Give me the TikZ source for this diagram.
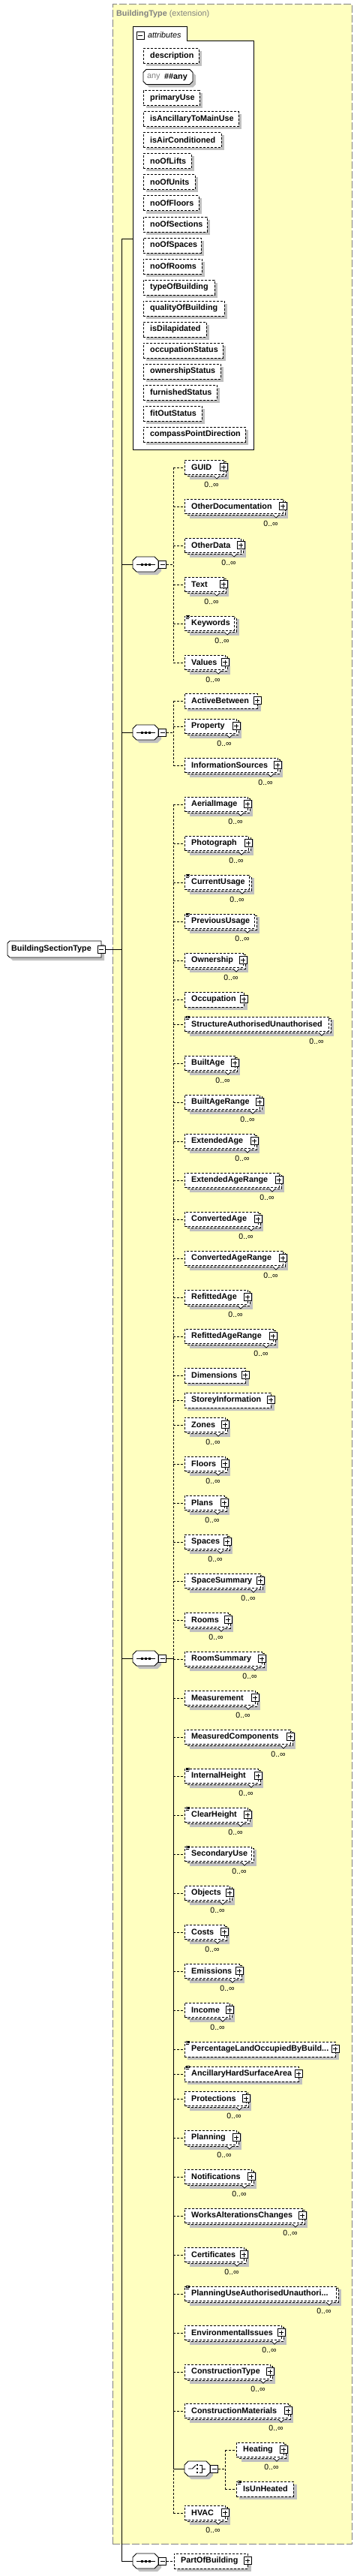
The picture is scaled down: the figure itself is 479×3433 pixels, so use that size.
\documentclass[tikz,border=0pt]{standalone}
\usepackage{fontspec}
\setmainfont{Liberation Sans}
\definecolor{yel}{RGB}{255,255,192}
\definecolor{shd}{RGB}{192,192,192}
\definecolor{brd}{RGB}{128,128,128}
\tikzset{
 elbox/.style={draw,dash pattern=on 3pt off 2pt,line width=0.8pt,fill=white,inner sep=0pt,rectangle},
 eldash/.style={dash pattern=on 3pt off 2pt,line width=0.8pt},
 eltext/.style={font=\fontsize{10.8}{12}\selectfont\bfseries,inner sep=0pt,anchor=west},
 multxt/.style={font=\fontsize{10.5}{12}\selectfont,inner sep=0pt},
 conn/.style={line width=0.8pt},
 dconn/.style={line width=0.8pt,dash pattern=on 3pt off 2pt},
 pmbox/.style={draw,fill=white,line width=0.7pt,minimum size=10pt,inner sep=0pt,rectangle},
}
\newcommand\Oct[6]{\path[#6] (#1+#5,#2) -- (#3-#5,#2) -- (#3,#2+#5) -- (#3,#4-#5) -- (#3-#5,#4) -- (#1+#5,#4) -- (#1,#4-#5) -- (#1,#2+#5) -- cycle;}
\newcommand\PlusBox[2]{\draw[line width=0.7pt,fill=white] (#1-5,#2-5.5) rectangle (#1+5,#2+4.5);
 \draw[line width=0.7pt] (#1-3,#2-0.5) -- (#1+3,#2-0.5) (#1,#2-3.5) -- (#1,#2+2.5);}
\newcommand\MinusNode[3]{\node[pmbox] (#1) at (#2,#3) {};
 \draw[line width=0.7pt] (#2-3,#3) -- (#2+3,#3);}
\newcommand\SimpIcon[2]{\draw[line width=0.6pt] (#1+1.5,#2-0.5) -- (#1+7,#2-0.5) (#1+1.5,#2+1.5) -- (#1+7,#2+1.5) (#1+1.5,#2+3.5) -- (#1+6,#2+3.5);}
% multi-occurrence element: id, text, L, yc, F, plus, icon, bus
\newcommand\MulEl[8]{%
 \fill[shd] (#3+7,#4-6) rectangle (#5+7,#4+16);
 \draw[eldash,fill=white] (#3+3,#4-8) rectangle (#5+3,#4+11);
 \node[elbox,minimum width={(#5-#3)*1pt},minimum height=19pt,anchor=north west] (#1) at (#3,#4-10) {};
 \draw[line width=0.7pt,fill=white] (#5-13,#4+11) -- (#5-9,#4+15) -- (#5-5,#4+11);
 \node[eltext] at (#3+9,#4) {#2};
 \node[multxt] at (#5-16,#4+23) {0..∞};
 \ifnum#6=1\relax\PlusBox{#5}{#4}\fi
 \ifnum#7=1\relax\SimpIcon{#3}{#4-10}\fi
 \draw[dconn] (#8 |- #1.west) -- (#1.west);
}
% single element: id, text, L, yc, F, plus, icon, bus
\newcommand\SinEl[8]{%
 \fill[shd] (#3+4,#4-6) rectangle (#5+5,#4+14);
 \node[elbox,minimum width={(#5-#3)*1pt},minimum height=20pt,anchor=north west] (#1) at (#3,#4-10) {};
 \node[eltext] at (#3+9,#4) {#2};
 \ifnum#6=1\relax\PlusBox{#5}{#4}\fi
 \ifnum#7=1\relax\SimpIcon{#3}{#4-10}\fi
 \draw[dconn] (#8 |- #1.west) -- (#1.west);
}
% attribute: id, text, yc, R
\newcommand\Attr[4]{%
 \fill[shd] (195,#3-6) rectangle (#4+4,#3+14);
 \node[elbox,minimum width={(#4-191)*1pt},minimum height=20pt,anchor=north west] (#1) at (191,#3-10) {};
 \node[eltext] at (200,#3) {#2};
}
% sequence symbol: id, x1, yc
\newcommand\SeqSym[3]{%
 \Oct{#2+4}{#3-6}{#2+38}{#3+14}{5}{fill=shd}
 \Oct{#2}{#3-10}{#2+34}{#3+10}{5}{fill=white,draw=black,line width=0.9pt}
 \node[inner sep=0pt,minimum width=34pt,minimum height=20pt,anchor=west] (#1) at (#2,#3) {};
 \draw[line width=0.9pt] (#2+5,#3) -- (#2+30,#3);
 \fill (#2+10.5,#3-1.5) rectangle +(3,3);
 \fill (#2+15.5,#3-1.5) rectangle +(3,3);
 \fill (#2+20.5,#3-1.5) rectangle +(3,3);
 \MinusNode{#1m}{#2+39.5}{#3}
}
\begin{document}
\begin{tikzpicture}[x=1pt,y=-1pt]
\useasboundingbox (0,0) rectangle (479,3433);
% extension box
\node[draw=brd,fill=yel,dash pattern=on 10pt off 3pt,line width=1pt,inner sep=0pt,minimum width=319pt,minimum height=3384.5pt,anchor=north west] (ext) at (149.5,5.5) {};
\node[anchor=west,inner sep=0pt,text=brd,font=\fontsize{10.8}{12}\selectfont] (exttitle) at (155,18.3) {\textbf{BuildingType} (extension)};
% attributes
\path[fill=white,draw=black,line width=1pt] (177,599) -- (177,36) -- (249,36) -- (249,55) -- (338,55) -- (338,599) -- cycle;
\node[inner sep=0pt,minimum width=161pt,minimum height=544pt,anchor=north west] (attrs) at (177,55) {};
\MinusNode{attrm}{187}{47}
\node[anchor=west,inner sep=0pt,font=\fontsize{10.8}{12}\selectfont\itshape] (attrtitle) at (197,47) {attributes};
\Attr{adesc}{description}{74.5}{265}
\Oct{195}{96.5}{261}{116.5}{4}{fill=shd}
\Oct{191}{92.5}{257}{112.5}{4}{fill=white,draw=black,line width=0.8pt}
\node[inner sep=0pt,minimum width=66pt,minimum height=20pt,anchor=west] (aany) at (191,102.5) {};
\node[anchor=west,inner sep=0pt,text=brd,font=\fontsize{10.8}{12}\selectfont] at (196,102.5) {any};
\node[eltext] at (219,102.5) {\#\#any};
\Attr{aprim}{primaryUse}{130.5}{266}
\Attr{aanc}{isAncillaryToMainUse}{158.5}{318}
\Attr{aair}{isAirConditioned}{186.5}{295}
\Attr{alifts}{noOfLifts}{214.5}{255}
\Attr{aunits}{noOfUnits}{242.5}{260}
\Attr{afloors}{noOfFloors}{270.5}{265}
\Attr{asect}{noOfSections}{298.5}{276}
\Attr{aspaces}{noOfSpaces}{326.5}{268}
\Attr{arooms}{noOfRooms}{354.5}{269}
\Attr{atype}{typeOfBuilding}{382.5}{286}
\Attr{aqual}{qualityOfBuilding}{410.5}{299}
\Attr{adil}{isDilapidated}{438.5}{275}
\Attr{aocc}{occupationStatus}{466.5}{297}
\Attr{aown}{ownershipStatus}{494.5}{294}
\Attr{afurn}{furnishedStatus}{522.5}{289}
\Attr{afit}{fitOutStatus}{550.5}{269}
\Attr{acomp}{compassPointDirection}{578.5}{327}
% root
\path[fill=shd] (17,1258) -- (139,1258) -- (139,1280) -- (17,1280) -- (14,1277) -- (14,1261) -- cycle;
\path[fill=white,draw=black,line width=0.9pt] (13,1254) -- (135,1254) -- (135,1276) -- (13,1276) -- (10,1273) -- (10,1257) -- cycle;
\node[inner sep=0pt,minimum width=125pt,minimum height=22pt,anchor=north west] (root) at (10,1254) {};
\node[eltext] at (15,1265) {BuildingSectionType};
\MinusNode{rootm}{135}{1265}
% buses
\coordinate (mainbus) at (162,0);
\coordinate (atop) at (177,318);
\coordinate (b1) at (231,0);
\coordinate (b4) at (300,0);
\coordinate (b5) at (221.5,0);
% sequences
\SeqSym{seqa}{177}{752}
\SeqSym{seqb}{177}{976}
\SeqSym{seqc}{177}{2210}
\SeqSym{seqd}{177}{3413}
% main connectors
\draw[conn] (atop) -- (mainbus |- atop) -- (mainbus |- seqd.west) -- (seqd.west);
\draw[conn] (rootm.east) -- (mainbus |- rootm.east);
\draw[conn] (mainbus |- seqa.west) -- (seqa.west);
\draw[conn] (mainbus |- seqb.west) -- (seqb.west);
\draw[conn] (mainbus |- seqc.west) -- (seqc.west);
% sequence 1
\draw[dconn] (seqam.east) -- (b1 |- seqam.east);
\draw[dconn] (b1 |- 0,623) -- (b1 |- 0,883);
\MulEl{guid}{GUID}{246}{623}{298}{1}{0}{b1}
\MulEl{otherdoc}{OtherDocumentation}{246}{675}{377}{1}{0}{b1}
\MulEl{otherdata}{OtherData}{246}{727}{321}{1}{0}{b1}
\MulEl{text}{Text}{246}{779}{298}{1}{0}{b1}
\MulEl{keywords}{Keywords}{246}{831}{312}{0}{1}{b1}
\MulEl{values}{Values}{246}{883}{300}{1}{0}{b1}
% sequence 2
\draw[dconn] (seqbm.east) -- (b1 |- seqbm.east);
\draw[dconn] (b1 |- 0,934) -- (b1 |- 0,1020);
\SinEl{activebetween}{ActiveBetween}{246}{934}{343}{1}{0}{b1}
\MulEl{property}{Property}{246}{968}{315}{1}{0}{b1}
\MulEl{infosources}{InformationSources}{246}{1020}{370}{1}{0}{b1}
% sequence 3
\draw[dconn] (b1 |- 0,1072) -- (b1 |- 0,3349);
\MulEl{aerial}{AerialImage}{246}{1072}{330}{1}{0}{b1}
\MulEl{photo}{Photograph}{246}{1124}{331}{1}{0}{b1}
\MulEl{curuse}{CurrentUsage}{246}{1176}{332}{0}{1}{b1}
\MulEl{prevuse}{PreviousUsage}{246}{1228}{339}{0}{1}{b1}
\MulEl{ownership}{Ownership}{246}{1280}{324}{1}{0}{b1}
\SinEl{occupation}{Occupation}{246}{1332}{325}{1}{0}{b1}
\MulEl{structau}{StructureAuthorisedUnauthorised}{246}{1365}{438}{0}{1}{b1}
\MulEl{builtage}{BuiltAge}{246}{1417}{313}{1}{0}{b1}
\MulEl{builtager}{BuiltAgeRange}{246}{1469}{346}{1}{0}{b1}
\MulEl{extage}{ExtendedAge}{246}{1521}{339}{1}{0}{b1}
\MulEl{extager}{ExtendedAgeRange}{246}{1573}{372}{1}{0}{b1}
\MulEl{convage}{ConvertedAge}{246}{1625}{344}{1}{0}{b1}
\MulEl{convager}{ConvertedAgeRange}{246}{1677}{377}{1}{0}{b1}
\MulEl{refage}{RefittedAge}{246}{1729}{330}{1}{0}{b1}
\MulEl{refager}{RefittedAgeRange}{246}{1781}{364}{1}{0}{b1}
\SinEl{dims}{Dimensions}{246}{1833}{327}{1}{0}{b1}
\SinEl{storey}{StoreyInformation}{246}{1866}{361}{1}{0}{b1}
\MulEl{zones}{Zones}{246}{1899}{300}{1}{0}{b1}
\MulEl{floors}{Floors}{246}{1951}{300}{1}{0}{b1}
\MulEl{plans}{Plans}{246}{2003}{299}{1}{0}{b1}
\MulEl{spaces}{Spaces}{246}{2055}{303}{1}{0}{b1}
\MulEl{spacesum}{SpaceSummary}{246}{2107}{347}{1}{0}{b1}
\MulEl{rooms}{Rooms}{246}{2159}{304}{1}{0}{b1}
\MulEl{roomsum}{RoomSummary}{246}{2211}{349}{1}{0}{b1}
\MulEl{measure}{Measurement}{246}{2263}{340}{1}{0}{b1}
\MulEl{meascomp}{MeasuredComponents}{246}{2315}{387}{1}{0}{b1}
\MulEl{intheight}{InternalHeight}{246}{2367}{344}{1}{1}{b1}
\MulEl{clrheight}{ClearHeight}{246}{2419}{330}{1}{1}{b1}
\MulEl{secuse}{SecondaryUse}{246}{2471}{335}{0}{1}{b1}
\MulEl{objects}{Objects}{246}{2523}{306}{1}{0}{b1}
\MulEl{costs}{Costs}{246}{2575}{299}{1}{0}{b1}
\MulEl{emissions}{Emissions}{246}{2627}{319}{1}{0}{b1}
\MulEl{income}{Income}{246}{2679}{306}{1}{0}{b1}
\SinEl{pctland}{PercentageLandOccupiedByBuild...}{246}{2731}{447}{1}{1}{b1}
\SinEl{ancillary}{AncillaryHardSurfaceArea}{246}{2764}{398}{1}{1}{b1}
\MulEl{protect}{Protections}{246}{2797}{328}{1}{0}{b1}
\MulEl{planning}{Planning}{246}{2849}{315}{1}{0}{b1}
\MulEl{notif}{Notifications}{246}{2901}{335}{1}{0}{b1}
\MulEl{works}{WorksAlterationsChanges}{246}{2953}{403}{1}{0}{b1}
\MulEl{certs}{Certificates}{246}{3005}{325}{1}{0}{b1}
\MulEl{planuse}{PlanningUseAuthorisedUnauthori...}{246}{3057}{448}{0}{1}{b1}
\MulEl{envissues}{EnvironmentalIssues}{246}{3109}{375}{1}{0}{b1}
\MulEl{consttype}{ConstructionType}{246}{3161}{360}{1}{0}{b1}
\MulEl{constmat}{ConstructionMaterials}{246}{3213}{384}{1}{0}{b1}
\MulEl{hvac}{HVAC}{246}{3349}{300}{1}{0}{b1}
% choice
\Oct{250}{3284}{284}{3304}{5}{fill=shd}
\Oct{246}{3280}{280}{3300}{5}{fill=white,draw=black,line width=0.9pt}
\node[inner sep=0pt,minimum width=34pt,minimum height=20pt,anchor=west] (choice) at (246,3290) {};
\draw[line width=0.9pt] (251,3290) -- (256.5,3290) -- (261,3285.5);
\fill (261.8,3283.8) rectangle +(2.6,2.6);
\fill (261.8,3288.7) rectangle +(2.6,2.6);
\fill (261.8,3293.6) rectangle +(2.6,2.6);
\draw[line width=0.9pt] (265.5,3285) -- (269.5,3285) -- (269.5,3295) -- (265.5,3295) (269.5,3290) -- (274,3290);
\MinusNode{choicem}{285.5}{3290}
\draw[conn] (seqcm.east) -- (b1 |- seqcm.east) -- (b1 |- choice.west) -- (choice.west);
\draw[dconn] (choicem.east) -- (b4 |- choicem.east);
\draw[dconn] (b4 |- 0,3265) -- (b4 |- 0,3317);
\MulEl{heating}{Heating}{315}{3265}{378}{1}{0}{b4}
\SinEl{isunheated}{IsUnHeated}{315}{3317}{391}{0}{1}{b4}
% sequence 4
\SinEl{partof}{PartOfBuilding}{232}{3413}{330}{1}{0}{b5}
\end{tikzpicture}
\end{document}
